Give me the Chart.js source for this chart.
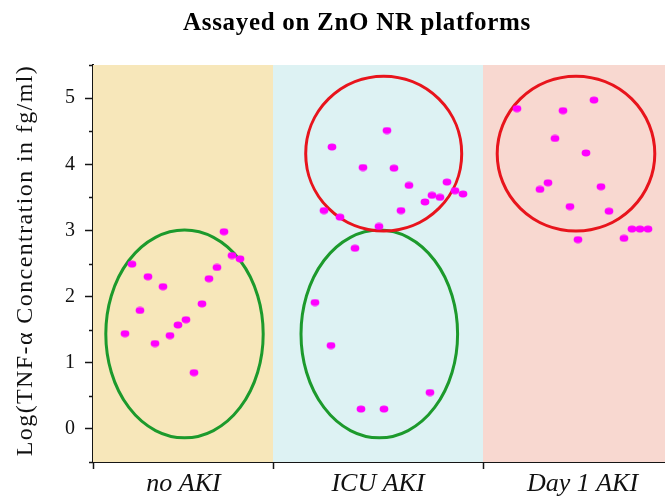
<!DOCTYPE html>
<html>
<head>
<meta charset="utf-8">
<script src="https://cdn.jsdelivr.net/npm/chart.js@4/dist/chart.umd.min.js"></script>
<style>
  html, body { margin: 0; padding: 0; background: #ffffff; }
  canvas { display: block; }
</style>
</head>
<body>
<canvas id="chart" width="665" height="496"></canvas>
<script>
// Groups along the horizontal axis
const groupNames = ['no AKI', 'ICU AKI', 'Day 1 AKI'];
// Edges of the shaded group bands and centres of the group labels (horizontal units)
const bandEdges = [0, 1.80, 3.90, 5.72];
const labelCenters = [0.905, 2.85, 4.895];
// Log(TNF-α) ticks: labelled integers plus half-step minor ticks
const yTickValues = [-0.5, 0, 0.5, 1, 1.5, 2, 2.5, 3, 3.5, 4, 4.5, 5, 5.5];

// no AKI samples
const noAkiX = [1.31, 0.39, 1.39, 1.47, 0.55, 1.24, 0.70, 1.16, 0.47, 1.09, 0.93, 0.85, 0.32, 0.77, 0.62, 1.01];
const noAkiY = [2.98, 2.49, 2.62, 2.57, 2.30, 2.44, 2.15, 2.27, 1.79, 1.89, 1.65, 1.57, 1.44, 1.41, 1.29, 0.85];

// ICU AKI samples
const icuAkiX = [2.94, 2.39, 2.70, 3.01, 3.16, 3.54, 3.62, 3.70, 3.39, 3.47, 3.32, 3.08, 2.31, 2.47, 2.86, 2.62, 2.22, 2.38, 3.37, 2.68, 2.91];
const icuAkiY = [4.51, 4.26, 3.95, 3.94, 3.68, 3.73, 3.60, 3.55, 3.53, 3.50, 3.43, 3.30, 3.30, 3.20, 3.06, 2.73, 1.91, 1.26, 0.55, 0.30, 0.30];

// Day 1 AKI samples
const day1AkiX = [4.24, 5.01, 4.70, 4.62, 4.93, 4.55, 4.47, 5.08, 4.77, 5.16, 5.39, 5.47, 5.55, 5.31, 4.85];
const day1AkiY = [4.84, 4.97, 4.81, 4.39, 4.17, 3.72, 3.62, 3.66, 3.36, 3.29, 3.02, 3.02, 3.02, 2.88, 2.86];

// Cluster rings (centre and half-widths in axis units): low group, low group, high group, high group
const ringCx = [0.915, 2.863, 2.907, 4.83];
const ringCy = [1.435, 1.435, 4.16, 4.16];
const ringRx = [0.787, 0.783, 0.78, 0.788];
const ringRy = [1.57, 1.57, 1.17, 1.17];
const ringKind = ['low', 'low', 'high', 'high'];

const bandColors = ['#F7E7BA', '#DDF2F3', '#F8D8D0'];
const ringColors = { low: '#1C9A2C', high: '#E8141C' };
const SERIF = '"Liberation Serif", "Times New Roman", serif';
const AXIS = '#151515';

// Slightly flattened magenta dot used as the marker
const dot = document.createElement('canvas');
dot.width = 10; dot.height = 8;
(() => {
  const g = dot.getContext('2d');
  g.fillStyle = '#FF00FF';
  g.beginPath();
  g.ellipse(5, 4, 4.4, 3.4, 0, 0, Math.PI * 2);
  g.fill();
})();

const toPoints = (xs, ys) => xs.map((x, i) => ({ x, y: ys[i] }));

// Shaded group bands and cluster rings, painted under the markers
const backdrop = {
  id: 'backdrop',
  beforeDatasetsDraw(chart) {
    const { ctx, chartArea: a, scales: { x, y } } = chart;
    ctx.save();
    ctx.beginPath();
    ctx.rect(a.left, a.top, a.right - a.left, a.bottom - a.top);
    ctx.clip();
    for (let i = 0; i < bandColors.length; i++) {
      const x0 = x.getPixelForValue(bandEdges[i]);
      const x1 = x.getPixelForValue(bandEdges[i + 1]);
      ctx.fillStyle = bandColors[i];
      ctx.fillRect(x0, a.top, x1 - x0, a.bottom - a.top);
    }
    ctx.lineWidth = 3;
    for (let i = 0; i < ringCx.length; i++) {
      const cx = x.getPixelForValue(ringCx[i]);
      const cy = y.getPixelForValue(ringCy[i]);
      const rx = Math.abs(x.getPixelForValue(ringCx[i] + ringRx[i]) - cx);
      const ry = Math.abs(y.getPixelForValue(ringCy[i] + ringRy[i]) - cy);
      ctx.strokeStyle = ringColors[ringKind[i]];
      ctx.beginPath();
      ctx.ellipse(cx, cy, rx, ry, 0, 0, Math.PI * 2);
      ctx.stroke();
    }
    ctx.restore();
  }
};

// Title, vertical axis title and the short half-step ticks
const annotations = {
  id: 'annotations',
  afterDraw(chart) {
    const { ctx, chartArea: a, scales: { y } } = chart;
    ctx.save();
    ctx.strokeStyle = AXIS;
    ctx.lineWidth = 1.5;
    yTickValues.filter(v => !Number.isInteger(v)).forEach(v => {
      const py = Math.round(y.getPixelForValue(v)) + 0.5;
      ctx.beginPath();
      ctx.moveTo(a.left - 4, py);
      ctx.lineTo(a.left, py);
      ctx.stroke();
    });

    ctx.fillStyle = '#000';
    ctx.textAlign = 'center';
    ctx.textBaseline = 'alphabetic';
    ctx.font = 'bold 25px ' + SERIF;
    ctx.letterSpacing = '0.7px';
    ctx.fillText('Assayed on ZnO NR platforms', 357, 30);

    ctx.translate(31.5, (a.top + a.bottom) / 2 - 3);
    ctx.rotate(-Math.PI / 2);
    ctx.font = '24px ' + SERIF;
    ctx.letterSpacing = '1.4px';
    ctx.fillStyle = '#111';
    ctx.fillText('Log(TNF-α Concentration in fg/ml)', 0, 0);
    ctx.restore();
  }
};

const xTickValues = [...bandEdges.slice(0, 3), ...labelCenters].sort((p, q) => p - q);

new Chart(document.getElementById('chart'), {
  type: 'scatter',
  data: {
    datasets: [
      { label: groupNames[0], data: toPoints(noAkiX, noAkiY) },
      { label: groupNames[1], data: toPoints(icuAkiX, icuAkiY) },
      { label: groupNames[2], data: toPoints(day1AkiX, day1AkiY) }
    ]
  },
  options: {
    responsive: false,
    animation: false,
    events: [],
    layout: { autoPadding: false, padding: { top: 65, left: 0, right: 0, bottom: 0 } },
    elements: { point: { pointStyle: dot, radius: 4 } },
    plugins: {
      legend: { display: false },
      tooltip: { enabled: false },
      title: { display: false }
    },
    scales: {
      x: {
        type: 'linear',
        min: bandEdges[0],
        max: bandEdges[3],
        afterFit(s) { s.height = 34; s.paddingLeft = 0; s.paddingRight = 0; },
        afterBuildTicks(s) { s.ticks = xTickValues.map(v => ({ value: v })); },
        grid: {
          display: true,
          drawOnChartArea: false,
          drawTicks: true,
          tickLength: 7,
          tickWidth: 1.5,
          tickColor: c => (labelCenters.includes(c.tick.value) ? 'rgba(0,0,0,0)' : AXIS)
        },
        border: { display: true, color: AXIS, width: 2 },
        ticks: {
          autoSkip: false,
          maxRotation: 0,
          padding: 0,
          color: '#111',
          font: { family: SERIF, size: 26, style: 'italic' },
          callback(v) {
            const i = labelCenters.indexOf(v);
            return i >= 0 ? groupNames[i] : '';
          }
        }
      },
      y: {
        min: -0.5,
        max: 5.5,
        afterFit(s) { s.width = 93; s.paddingTop = 0; s.paddingBottom = 0; },
        afterBuildTicks(s) { s.ticks = yTickValues.map(v => ({ value: v })); },
        grid: {
          display: true,
          drawOnChartArea: false,
          drawTicks: true,
          tickLength: 8,
          tickWidth: 1.5,
          tickColor: c => (Number.isInteger(c.tick.value) ? AXIS : 'rgba(0,0,0,0)')
        },
        border: { display: true, color: AXIS, width: 2 },
        ticks: {
          padding: 10,
          color: '#111',
          font: { family: SERIF, size: 20 },
          callback(v) { return Number.isInteger(v) ? String(v) : ''; }
        }
      }
    }
  },
  plugins: [backdrop, annotations]
});
</script>
</body>
</html>
